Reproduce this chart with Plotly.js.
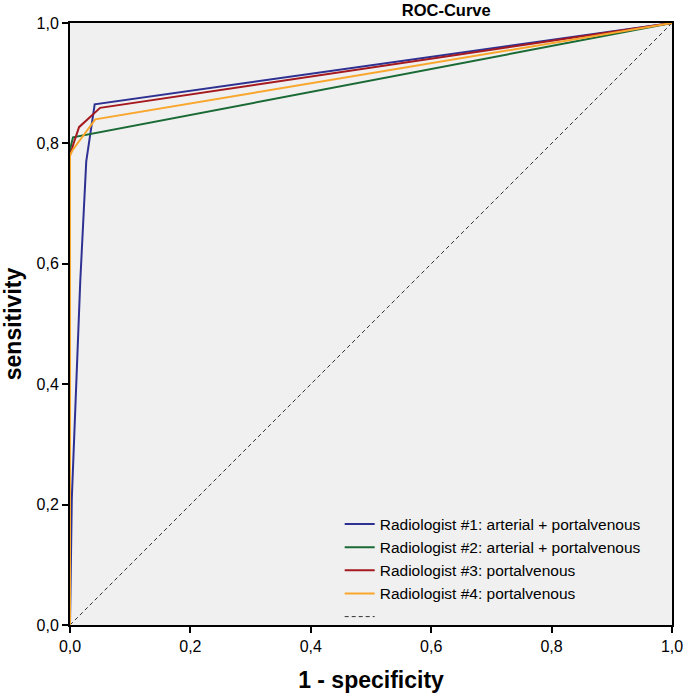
<!DOCTYPE html>
<html>
<head>
<meta charset="utf-8">
<script src="https://cdn.plot.ly/plotly-3.0.1.min.js"></script>
<style>html,body{margin:0;padding:0;background:#fff;}#chart{width:685px;height:698px;}</style>
</head>
<body>
<div id="chart"></div>
<script>
var seriesNames = [
  "Radiologist #1: arterial + portalvenous",
  "Radiologist #2: arterial + portalvenous",
  "Radiologist #3: portalvenous",
  "Radiologist #4: portalvenous"
];
var fpr1 = [0, 0.003, 0.017, 0.027, 0.041, 1];
var tpr1 = [0, 0.21, 0.57, 0.77, 0.865, 1];
var fpr2 = [0, 0, 0.005, 1];
var tpr2 = [0, 0.79, 0.81, 1];
var fpr3 = [0, 0, 0.005, 0.015, 0.05, 1];
var tpr3 = [0, 0.78, 0.797, 0.827, 0.859, 1];
var fpr4 = [0, 0, 0.005, 0.042, 1];
var tpr4 = [0, 0.78, 0.79, 0.84, 1];
var refX = [0, 1];
var refY = [0, 1];
var tickVals = [0, 0.2, 0.4, 0.6, 0.8, 1.0];

var colors = ["#2e3192", "#1a6a35", "#a5191f", "#f9a62c"];
var F = "Liberation Sans, Arial, Helvetica, sans-serif";

function tr(x, y, name, color) {
  return {x: x, y: y, name: name, type: "scatter", mode: "lines",
          line: {color: color, width: 2}, hoverinfo: "skip"};
}
var data = [
  {x: refX, y: refY, name: " ", type: "scatter", mode: "lines",
   line: {color: "#333", width: 1, dash: "4px,3px"}, hoverinfo: "skip", legendrank: 5},
  tr(fpr1, tpr1, seriesNames[0], colors[0]),
  tr(fpr2, tpr2, seriesNames[1], colors[1]),
  tr(fpr3, tpr3, seriesNames[2], colors[2]),
  tr(fpr4, tpr4, seriesNames[3], colors[3])
];
for (var i = 1; i < 5; i++) data[i].legendrank = i;

var axisCommon = {
  range: [0, 1], tickvals: tickVals, tickformat: ".1f",
  ticks: "outside", ticklen: 6, tickwidth: 2, tickcolor: "#000",
  showline: true, linecolor: "#000", linewidth: 2, mirror: true,
  showgrid: false, zeroline: false,
  tickfont: {family: F, size: 16, color: "#000"}
};
var layout = {
  width: 685, height: 698,
  margin: {l: 70, r: 13, t: 23, b: 73},
  separators: ",.",
  paper_bgcolor: "#fff",
  plot_bgcolor: "#f0f0f0",
  title: {text: "<b>ROC-Curve</b>", font: {family: F, size: 16.5, color: "#000"},
          x: 0.625, xref: "paper", xanchor: "center", y: 0.986, yref: "container", yanchor: "middle"},
  xaxis: Object.assign({}, axisCommon, {
    title: {text: "<b>1 - specificity</b>", font: {family: F, size: 23, color: "#000"}, standoff: 18}
  }),
  yaxis: Object.assign({}, axisCommon, {
    title: {text: "<b>sensitivity</b>", font: {family: F, size: 23, color: "#000"}, standoff: 12}
  }),
  showlegend: true,
  legend: {x: 0.448, xanchor: "left", y: -0.014, yanchor: "bottom",
           bgcolor: "rgba(0,0,0,0)", borderwidth: 0,
           traceorder: "normal",
           font: {family: F, size: 15.5, color: "#000"}, itemwidth: 30}
};
Plotly.newPlot("chart", data, layout, {displayModeBar: false, staticPlot: true});
</script>
</body>
</html>
